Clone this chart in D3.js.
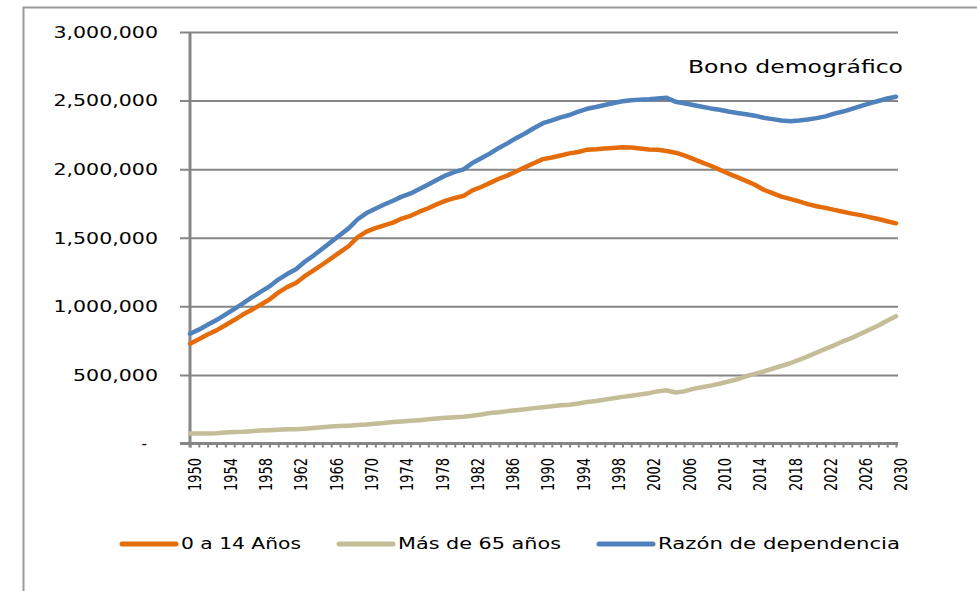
<!DOCTYPE html>
<html>
<head>
<meta charset="utf-8">
<script src="https://cdn.jsdelivr.net/npm/d3@7/dist/d3.min.js"></script>
<style>
  html, body { margin: 0; padding: 0; background: #ffffff; }
  svg { display: block; }
  text { font-family: "DejaVu Sans", Verdana, sans-serif; fill: #000; }
</style>
</head>
<body>
<svg id="chart" width="977" height="591"></svg>
<script>
// ---------- DATA ----------
const years = d3.range(1950, 2031);
const xTickLabels = [1950,1954,1958,1962,1966,1970,1974,1978,1982,1986,1990,1994,1998,2002,2006,2010,2014,2018,2022,2026,2030];
const yTickValues = [0, 500000, 1000000, 1500000, 2000000, 2500000, 3000000];
const yTickLabels = ["-", "500,000", "1,000,000", "1,500,000", "2,000,000", "2,500,000", "3,000,000"];
const seriesNames = ["0 a 14 Años", "Más de 65 años", "Razón de dependencia"];
const seriesColors = ["#E46C0A", "#C4BD97", "#4F81BD"];
const titleText = "Bono demográfico";

// values in thousands, 1950..2030
const ninos = [
  728,760,795,825,862,900,940,975,1012,1050,
  1100,1140,1170,1220,1262,1305,1350,1395,1440,1505,
  1545,1570,1590,1610,1640,1660,1690,1715,1745,1770,
  1790,1805,1845,1870,1900,1930,1955,1985,2015,2045,
  2073,2085,2100,2115,2125,2142,2145,2150,2155,2160,
  2158,2150,2143,2141,2133,2120,2100,2075,2050,2025,
  1997,1968,1942,1915,1886,1850,1825,1800,1783,1765,
  1745,1730,1718,1703,1690,1676,1665,1650,1637,1620,
  1605
];
const mayores = [
  73,73,73,74,80,84,85,90,95,97,
  100,103,104,108,113,118,124,127,130,134,
  138,144,150,156,160,165,170,176,183,188,
  191,195,203,212,222,228,236,243,250,258,
  265,271,279,283,292,302,310,320,330,340,
  348,357,367,380,388,372,380,398,410,422,
  436,452,468,490,508,525,545,565,585,610,
  635,662,690,716,745,770,800,830,860,895,
  927
];
const dependencia = [
  800,830,865,900,940,980,1022,1065,1105,1145,
  1195,1235,1270,1325,1370,1420,1470,1520,1570,1635,
  1680,1712,1742,1770,1800,1823,1855,1888,1923,1955,
  1980,1998,2045,2080,2115,2155,2190,2228,2262,2300,
  2335,2355,2378,2395,2420,2440,2453,2468,2482,2495,
  2503,2507,2510,2515,2520,2492,2480,2468,2455,2443,
  2433,2420,2410,2400,2390,2375,2365,2355,2350,2355,
  2362,2372,2385,2405,2420,2440,2460,2480,2497,2515,
  2528
];
const seriesValues = [ninos, mayores, dependencia];

// ---------- LAYOUT ----------
const svg = d3.select("#chart");
const STRETCH = 1.37;           // reference picture is horizontally stretched
const gridColor = "#868686";
const plotLeft = 190, plotRight = 896, gridLeft = 180, gridRight = 898;
const x = d3.scaleLinear().domain([1950, 2030]).range([plotLeft, plotRight]);
const y = d3.scaleLinear().domain([0, 3000000]).range([443.5, 32]);

// outer chart-area border (only top and left visible)
svg.append("rect")
  .attr("x", 23.5).attr("y", 7.5).attr("width", 1100).attr("height", 1100)
  .attr("fill", "none").attr("stroke", "#9a9a9a").attr("stroke-width", 2);

// gridlines + y labels via axis
const yAxis = d3.axisLeft(y)
  .tickValues(yTickValues)
  .tickSizeInner(gridRight - gridLeft)
  .tickSizeOuter(0)
  .tickPadding(gridLeft - 158 - (0))
  .tickFormat((d, i) => yTickLabels[i]);
const gy = svg.append("g").attr("transform", `translate(${gridRight},0)`).call(yAxis);
gy.select(".domain").remove();
gy.selectAll(".tick line").attr("stroke", gridColor).attr("stroke-width", 2);
gy.selectAll(".tick text")
  .attr("font-size", 15)
  .attr("font-family", "DejaVu Sans, Verdana, sans-serif")
  .attr("dy", "0.36em")
  .each(function(d) {
    const t = d3.select(this);
    if (d === 0) { t.attr("x", -(gridRight - 147)); return; }
    const w = this.getComputedTextLength();
    t.attr("textLength", w * STRETCH).attr("lengthAdjust", "spacingAndGlyphs");
  });

// minor ticks on x axis (one per year)
const xAxis = d3.axisBottom(x)
  .tickValues(years)
  .tickSizeInner(4)
  .tickSizeOuter(0)
  .tickFormat("");
const gx = svg.append("g").attr("transform", `translate(0,${y(0)})`).call(xAxis);
gx.select(".domain").remove();
gx.selectAll(".tick line").attr("stroke", gridColor).attr("stroke-width", 2);

// axis lines
svg.append("line")
  .attr("x1", gridLeft).attr("x2", gridRight)
  .attr("y1", y(0)).attr("y2", y(0))
  .attr("stroke", gridColor).attr("stroke-width", 3);
svg.append("line")
  .attr("x1", plotLeft).attr("x2", plotLeft)
  .attr("y1", y(3000000)).attr("y2", y(0) + 4)
  .attr("stroke", gridColor).attr("stroke-width", 3);

// x tick labels (rotated)
svg.append("g").selectAll("text")
  .data(xTickLabels)
  .join("text")
  .attr("transform", d => `translate(${x(d) + 5},458) rotate(-90) scale(1,${STRETCH})`)
  .attr("text-anchor", "end")
  .attr("dy", "0.36em")
  .attr("font-size", 13)
  .text(d => d);

// series lines
const line = d3.line()
  .x((d, i) => x(years[i]))
  .y(d => y(d * 1000))
  .curve(d3.curveLinear);
svg.append("g").selectAll("path")
  .data(seriesValues)
  .join("path")
  .attr("d", d => line(d))
  .attr("fill", "none")
  .attr("stroke", (d, i) => seriesColors[i])
  .attr("stroke-width", 4.5)
  .attr("stroke-linejoin", "round")
  .attr("stroke-linecap", "round");

// title
svg.append("text")
  .attr("x", 688).attr("y", 72.5)
  .attr("font-size", 17)
  .attr("textLength", 215).attr("lengthAdjust", "spacingAndGlyphs")
  .text(titleText);

// legend
const legendX = [120, 337, 597];
const legendTextW = [120, 163, 242];
const lg = svg.append("g").selectAll("g")
  .data(seriesNames)
  .join("g")
  .attr("transform", (d, i) => `translate(${legendX[i]},544)`);
lg.append("line")
  .attr("x1", 2).attr("x2", 56)
  .attr("y1", 0).attr("y2", 0)
  .attr("stroke", (d, i) => seriesColors[i])
  .attr("stroke-width", 5)
  .attr("stroke-linecap", "round");
lg.append("text")
  .attr("x", 61).attr("y", 0)
  .attr("dy", "0.36em")
  .attr("font-size", 15)
  .attr("textLength", (d, i) => legendTextW[i])
  .attr("lengthAdjust", "spacingAndGlyphs")
  .text(d => d);
</script>
</body>
</html>
